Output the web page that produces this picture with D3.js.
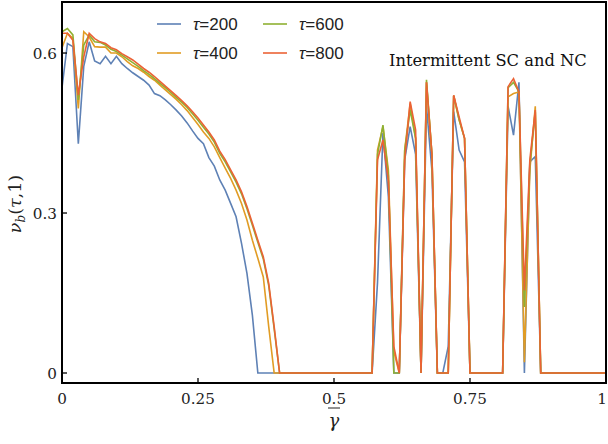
<!DOCTYPE html>
<html>
<head>
<meta charset="utf-8">
<script src="https://cdn.jsdelivr.net/npm/d3@7"></script>
<style>
  html, body { margin: 0; padding: 0; background: #fff; }
  svg { display: block; }
</style>
</head>
<body>
<svg id="chart" width="608" height="444"></svg>
<script>
// ---- data (gamma grid 0..1 step 0.01) ----
const gammaTicks = [0, 0.25, 0.5, 0.75, 1];
const gammaTickLabels = ["0", "0.25", "0.5", "0.75", "1"];
const vTicks = [0, 0.3, 0.6];
const vTickLabels = ["0", "0.3", "0.6"];
const seriesNames = ["τ=200", "τ=400", "τ=600", "τ=800"];

const tau200 = [
  0.535, 0.618, 0.612, 0.430, 0.575, 0.621, 0.585, 0.580, 0.594, 0.580,
  0.594, 0.580, 0.571, 0.563, 0.556, 0.549, 0.540, 0.524, 0.520, 0.512,
  0.503, 0.493, 0.482, 0.469, 0.454, 0.440, 0.430, 0.404, 0.388, 0.362,
  0.343, 0.318, 0.293, 0.243, 0.187, 0.108, 0, 0, 0, 0,
  0, 0, 0, 0, 0, 0, 0, 0, 0, 0,
  0, 0, 0, 0, 0, 0, 0, 0, 0.170, 0.450,
  0.330, 0, 0, 0.400, 0.462, 0.410, 0, 0.500, 0.380, 0,
  0, 0.050, 0.490, 0.418, 0.396, 0, 0, 0, 0, 0,
  0, 0, 0.500, 0.446, 0.545, 0, 0.396, 0.406, 0, 0,
  0, 0, 0, 0, 0, 0, 0, 0, 0, 0,
  0
];
const tau400 = [
  0.610, 0.637, 0.628, 0.496, 0.640, 0.630, 0.612, 0.611, 0.611, 0.600,
  0.600, 0.593, 0.584, 0.576, 0.571, 0.564, 0.556, 0.549, 0.540, 0.531,
  0.522, 0.513, 0.503, 0.492, 0.479, 0.466, 0.452, 0.440, 0.424, 0.404,
  0.384, 0.365, 0.343, 0.318, 0.287, 0.249, 0.215, 0.180, 0.087, 0,
  0, 0, 0, 0, 0, 0, 0, 0, 0, 0,
  0, 0, 0, 0, 0, 0, 0, 0, 0.418, 0.462,
  0.380, 0.040, 0, 0.418, 0.505, 0.440, 0, 0.545, 0.410, 0,
  0, 0, 0.520, 0.475, 0.440, 0, 0, 0, 0, 0,
  0, 0, 0.518, 0.524, 0.527, 0.020, 0.380, 0.500, 0, 0,
  0, 0, 0, 0, 0, 0, 0, 0, 0, 0,
  0
];
const tau600 = [
  0.640, 0.646, 0.634, 0.512, 0.615, 0.634, 0.621, 0.620, 0.615, 0.607,
  0.603, 0.596, 0.589, 0.582, 0.575, 0.567, 0.560, 0.552, 0.543, 0.535,
  0.526, 0.517, 0.508, 0.498, 0.486, 0.474, 0.461, 0.448, 0.433, 0.412,
  0.396, 0.377, 0.358, 0.336, 0.308, 0.277, 0.245, 0.214, 0.164, 0.083,
  0, 0, 0, 0, 0, 0, 0, 0, 0, 0,
  0, 0, 0, 0, 0, 0, 0, 0, 0.410, 0.465,
  0.370, 0, 0, 0.418, 0.493, 0.440, 0, 0.550, 0.410, 0,
  0, 0, 0.520, 0.475, 0.440, 0, 0, 0, 0, 0,
  0, 0, 0.535, 0.545, 0.527, 0.124, 0.390, 0.490, 0, 0,
  0, 0, 0, 0, 0, 0, 0, 0, 0, 0,
  0
];
const tau800 = [
  0.637, 0.637, 0.624, 0.521, 0.593, 0.637, 0.627, 0.621, 0.618, 0.610,
  0.606, 0.599, 0.593, 0.587, 0.579, 0.571, 0.564, 0.556, 0.547, 0.538,
  0.529, 0.520, 0.511, 0.501, 0.490, 0.478, 0.465, 0.452, 0.437, 0.416,
  0.400, 0.381, 0.362, 0.340, 0.312, 0.281, 0.249, 0.218, 0.168, 0.087,
  0, 0, 0, 0, 0, 0, 0, 0, 0, 0,
  0, 0, 0, 0, 0, 0, 0, 0, 0.400, 0.437,
  0.360, 0.050, 0, 0.400, 0.509, 0.456, 0, 0.545, 0.410, 0,
  0, 0, 0.521, 0.480, 0.440, 0, 0, 0, 0, 0,
  0, 0, 0.537, 0.552, 0.527, 0.155, 0.400, 0.493, 0, 0,
  0, 0, 0, 0, 0, 0, 0, 0, 0, 0,
  0
];
const seriesValues = [tau200, tau400, tau600, tau800];
const colors = ["#5E81B5", "#E19C24", "#8FB032", "#EB6235"];
const gammaStep = 0.01;

// ---- layout ----
const svg = d3.select("#chart");
const mLeft = 62, mRight = 606, mTop = 2, mBottom = 383;
const x = d3.scaleLinear().domain([0, 1]).range([mLeft, mRight]);
const y = d3.scaleLinear().domain([-0.01875, 0.6957]).range([mBottom, mTop]);

// lines
svg.append("clipPath").attr("id", "clip").append("rect")
  .attr("x", mLeft).attr("y", mTop).attr("width", mRight - mLeft).attr("height", mBottom - mTop);
const line = d3.line().x((d, i) => x(i * gammaStep)).y(d => y(d));
const gLines = svg.append("g").attr("clip-path", "url(#clip)");
seriesValues.forEach((vals, k) => {
  gLines.append("path").datum(vals)
    .attr("d", line)
    .attr("fill", "none")
    .attr("stroke", colors[k])
    .attr("stroke-width", 1.6)
    .attr("stroke-linejoin", "miter");
});

// frame
svg.append("rect").attr("x", mLeft).attr("y", mTop).attr("width", mRight - mLeft).attr("height", mBottom - mTop)
  .attr("fill", "none").attr("stroke", "#000").attr("stroke-width", 2);

// x ticks (inward)
const serif = "'DejaVu Serif', serif";
gammaTicks.forEach((t, i) => {
  svg.append("line").attr("x1", x(t)).attr("x2", x(t)).attr("y1", mBottom).attr("y2", mBottom - 5)
    .attr("stroke", "#000").attr("stroke-width", 1.3);
  const last = i === gammaTicks.length - 1;
  svg.append("text").attr("x", last ? 607 : x(t)).attr("y", 404)
    .attr("text-anchor", last ? "end" : "middle").attr("font-family", serif).attr("font-size", 15.2)
    .attr("fill", "#222").text(gammaTickLabels[i]);
});
// y ticks
vTicks.forEach((t, i) => {
  svg.append("line").attr("x1", mLeft).attr("x2", mLeft + 5).attr("y1", y(t)).attr("y2", y(t))
    .attr("stroke", "#000").attr("stroke-width", 1.3);
  svg.append("text").attr("x", 57).attr("y", y(t) + 5.5)
    .attr("text-anchor", "end").attr("font-family", serif).attr("font-size", 15.2)
    .attr("fill", "#222").text(vTickLabels[i]);
});

// x label: gamma with overline
svg.append("text").attr("x", x(0.5)).attr("y", 427)
  .attr("text-anchor", "middle").attr("font-family", serif).attr("font-size", 18)
  .attr("font-style", "italic").attr("fill", "#222").text("γ");
svg.append("line").attr("x1", x(0.5) - 6).attr("x2", x(0.5) + 6).attr("y1", 408).attr("y2", 408)
  .attr("stroke", "#222").attr("stroke-width", 1);

// y label
const yl = svg.append("text").attr("transform", "translate(21,204) rotate(-90)")
  .attr("text-anchor", "middle").attr("font-family", serif).attr("font-size", 17.5).attr("fill", "#222");
yl.append("tspan").attr("font-style", "italic").text("ν");
yl.append("tspan").attr("font-style", "italic").attr("font-size", 12).attr("dy", 4).text("b");
yl.append("tspan").attr("dy", -4).text("(");
yl.append("tspan").attr("font-style", "italic").text("τ");
yl.append("tspan").text(",1)");

// annotation
svg.append("text").attr("x", 389).attr("y", 66)
  .attr("font-family", serif).attr("font-size", 16.3).attr("fill", "#111")
  .text("Intermittent SC and NC");

// legend
const legendPos = [[157, 24], [157, 53], [263, 24], [263, 53]];
seriesNames.forEach((name, k) => {
  const [lx, ly] = legendPos[k];
  svg.append("line").attr("x1", lx).attr("x2", lx + 24).attr("y1", ly).attr("y2", ly)
    .attr("stroke", colors[k]).attr("stroke-width", 1.6);
  const t = svg.append("text").attr("x", lx + 36).attr("y", ly + 6)
    .attr("font-family", "'Liberation Sans', Arial, sans-serif").attr("font-size", 17).attr("fill", "#222");
  t.append("tspan").attr("font-style", "italic").text(name.slice(0, 1));
  t.append("tspan").text(name.slice(1));
});
</script>
</body>
</html>
